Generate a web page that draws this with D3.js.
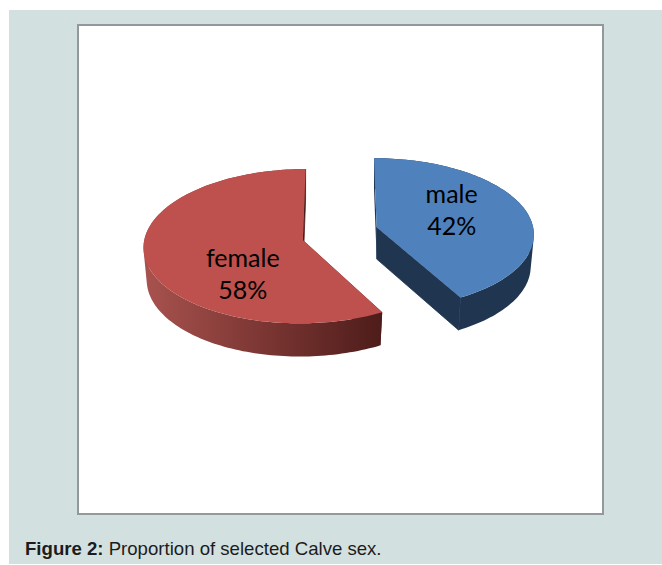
<!DOCTYPE html>
<html>
<head>
<meta charset="utf-8">
<style>
  html, body { margin: 0; padding: 0; background: #fff; }
  svg { display: block; }
</style>
<script src="https://cdn.jsdelivr.net/npm/d3@7"></script>
</head>
<body>
<svg id="chart" width="662" height="565"></svg>
<script>
const categories = ['male', 'female']
const shares = [42, 58]
const topColors = ['#4f81bd', '#be504d']
const sideColors = ['#1f3550', '#4d1c1a']
const femaleWallStops = ['#a8524e', '#7b3633', '#4d1c1a']
const captionBold = 'Figure 2:'
const captionText = ' Proportion of selected Calve sex.'

const svg = d3.select('#chart')

// page panel and chart frame
svg.append('rect').attr('x', 9).attr('y', 10).attr('width', 653).attr('height', 554).attr('fill', '#d2e1e0')
svg.append('rect').attr('x', 78).attr('y', 25).attr('width', 525).attr('height', 489)
    .attr('fill', '#fff').attr('stroke', '#93989a').attr('stroke-width', 2)

// tilted pie, seen in perspective from the front
const vanishX = 340,
    midY = 233.6,
    radiusX = 157.5,
    radiusY = 75.6,
    depth = 32,
    tilt = 0.08,
    explode = 0.242,
    lift = 1.4,
    bottomShrink = 0.98

function project(u, v, z) {
    let p = 1 / (1 - tilt * v)
    return [vanishX + u * radiusX * p, midY + v * radiusY * p + z * depth * p]
}

const slices = d3.pie().sort(null)(shares).map((s, i) => {
    let mid = (s.startAngle + s.endAngle) / 2
    return Object.assign(s, {
        i: i,
        cu: explode * Math.sin(mid),
        cv: -explode * lift * Math.cos(mid)
    })
})

// the lower rim is further from the eye, so it is drawn a little smaller
function rim(s, z) {
    let n = Math.ceil((s.endAngle - s.startAngle) * 40),
        r = z ? bottomShrink : 1
    return d3.range(n + 1).map(k => {
        let a = s.startAngle + (s.endAngle - s.startAngle) * k / n
        return project(s.cu + r * Math.sin(a), s.cv - r * Math.cos(a), z)
    })
}

function apex(s, z) {
    return project(s.cu, s.cv, z)
}

const line = d3.line().curve(d3.curveLinear)
const shape = pts => line(pts) + 'Z'

const defs = svg.append('defs')
const wallGradient = defs.append('linearGradient')
    .attr('id', 'femaleWall')
    .attr('gradientUnits', 'userSpaceOnUse')
    .attr('x1', 145).attr('x2', 383).attr('y1', 0).attr('y2', 0)
femaleWallStops.forEach((c, i) => {
    wallGradient.append('stop')
        .attr('offset', i / (femaleWallStops.length - 1))
        .attr('stop-color', c)
})

const pie = svg.append('g')

// walls first, the top faces cover whatever faces away
slices.forEach(s => {
    let top = rim(s, 0),
        bottom = rim(s, 1),
        last = top.length - 1
    pie.append('path')
        .attr('d', shape([apex(s, 0), top[0], bottom[0], apex(s, 1)]))
        .attr('fill', sideColors[s.i])
    pie.append('path')
        .attr('d', shape([apex(s, 0), top[last], bottom[last], apex(s, 1)]))
        .attr('fill', sideColors[s.i])
        .attr('stroke', sideColors[s.i])
        .attr('stroke-width', 0.8)
    // outer wall as one path of quads wound the same way, so the rims can cross
    let quads = d3.range(last).map(k => {
        let q = [top[k], top[k + 1], bottom[k + 1], bottom[k]]
        return d3.polygonArea(q) < 0 ? q.reverse() : q
    })
    pie.append('path')
        .attr('d', quads.map(shape).join(''))
        .attr('fill', s.i === 1 ? 'url(#femaleWall)' : sideColors[s.i])
})

slices.forEach(s => {
    pie.append('path')
        .attr('d', shape([apex(s, 0)].concat(rim(s, 0))))
        .attr('fill', topColors[s.i])
})

// labels sit inside the top faces, offset from each apex
const labelOffsets = [[75, -16], [-60, 35]]
slices.forEach(s => {
    let a = apex(s, 0),
        x = a[0] + labelOffsets[s.i][0],
        y = a[1] + labelOffsets[s.i][1]
    let label = svg.append('text')
        .attr('x', x).attr('y', y)
        .attr('text-anchor', 'middle')
        .attr('font-family', 'Lato')
        .attr('font-size', 25)
        .attr('fill', '#000')
    label.append('tspan').attr('x', x).attr('dy', -8).text(categories[s.i])
    label.append('tspan').attr('x', x).attr('dy', 32).text(s.value + '%')
})

const caption = svg.append('text')
    .attr('x', 25).attr('y', 555)
    .attr('font-family', 'Liberation Sans')
    .attr('font-size', 18.6)
    .attr('fill', '#1c1c1c')
    .attr('xml:space', 'preserve')
caption.append('tspan').attr('font-weight', 'bold').text(captionBold)
caption.append('tspan').text(captionText)
</script>
</body>
</html>
